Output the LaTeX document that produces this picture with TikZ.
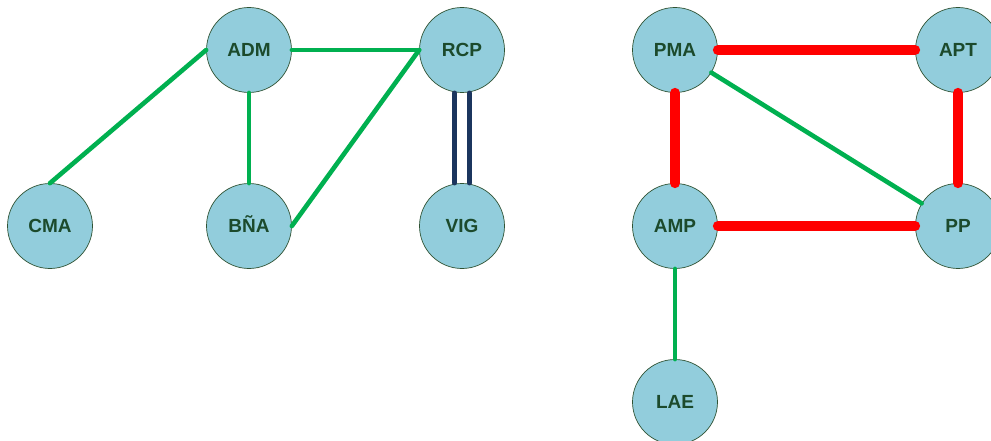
\documentclass[tikz,border=0pt]{standalone}
\usepackage{fontspec}
\setmainfont{Liberation Sans}
\definecolor{nodefill}{HTML}{92CDDC}
\definecolor{nodeedge}{HTML}{2F5233}
\definecolor{txt}{HTML}{1C4A2C}
\definecolor{gline}{HTML}{00B050}
\definecolor{rline}{HTML}{FF0000}
\definecolor{nline}{HTML}{1B355E}
\tikzset{
  vtx/.style={circle, draw=nodeedge, line width=0.7pt, fill=nodefill, minimum size=85pt, inner sep=0pt,
    text height=13.5pt, text depth=0pt,
    font=\fontsize{19}{21}\selectfont\bfseries, text=txt},
  gedge/.style={draw=gline, line width=4.6pt, line cap=round},
  redge/.style={draw=rline, line width=10pt, line cap=round},
  nedge/.style={draw=nline, line width=4.6pt, line cap=round}
}
\begin{document}
\begin{tikzpicture}[x=1pt,y=-1pt]
\useasboundingbox (0,0) rectangle (991,441);
\node[vtx] (ADM) at (249,50) {ADM};
\node[vtx] (RCP) at (462,50) {RCP};
\node[vtx] (CMA) at (50,226) {CMA};
\node[vtx] (BNA) at (249,226) {BÑA};
\node[vtx] (VIG) at (462,226) {VIG};
\node[vtx] (PMA) at (675,50) {PMA};
\node[vtx] (APT) at (958,50) {APT};
\node[vtx] (AMP) at (675,226) {AMP};
\node[vtx] (PP) at (958,226) {PP};
\node[vtx] (LAE) at (675,402) {LAE};
% left graph
\draw[gedge] (ADM.west) -- (CMA.north);
\draw[gedge] (ADM.east) -- (RCP.west);
\draw[gedge] (ADM.south) -- (BNA.north);
\draw[gedge] (RCP.west) -- (BNA.east);
\draw[nedge] ([xshift=-7.5pt]RCP.south) -- ([xshift=-7.5pt]VIG.north);
\draw[nedge] ([xshift=7.5pt]RCP.south) -- ([xshift=7.5pt]VIG.north);
% right graph
\draw[redge] (PMA.east) -- (APT.west);
\draw[redge] (PMA.south) -- (AMP.north);
\draw[redge] (APT.south) -- (PP.north);
\draw[redge] (AMP.east) -- (PP.west);
\draw[gedge] (PMA) -- (PP);
\draw[gedge] (AMP.south) -- (LAE.north);
\end{tikzpicture}
\end{document}
